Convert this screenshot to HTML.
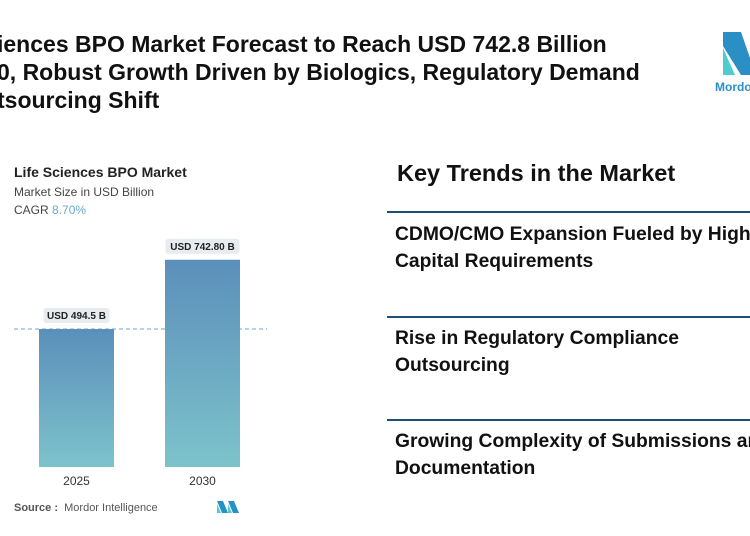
<!DOCTYPE html>
<html><head><meta charset="utf-8"><style>
body{margin:0;width:750px;height:536px;overflow:hidden;background:#fff;font-family:"Liberation Sans",sans-serif;position:relative}
.abs{position:absolute;white-space:nowrap}
.t{font-weight:bold;font-size:23px;color:#111;left:-3px}
.k{font-weight:bold;font-size:19.3px;color:#111;left:395px}
.hr{position:absolute;left:387px;width:363px;height:2px;background:#1f4e79}
</style></head><body>
<div class="abs t" style="top:31px">iences BPO Market Forecast to Reach USD 742.8 Billion</div>
<div class="abs t" style="top:59px">0, Robust Growth Driven by Biologics, Regulatory Demand</div>
<div class="abs t" style="top:87px">tsourcing Shift</div>
<svg class="abs" style="left:715px;top:28px" width="40" height="70">
<polygon points="8,4 26,4 35,30 35,47 26,47 8,18" fill="#2a8fc4"/>
<polygon points="8,20 20,47 8,47" fill="#4ecdd0"/>
<text x="0" y="63" font-size="12" font-weight="bold" fill="#2a8fc4" font-family="Liberation Sans">Mordor</text>
</svg>
<div class="abs" style="left:14px;top:164px;font-weight:bold;font-size:14px;color:#222">Life Sciences BPO Market</div>
<div class="abs" style="left:14px;top:185px;font-size:12px;color:#444">Market Size in USD Billion</div>
<div class="abs" style="left:14px;top:203px;font-size:12px;color:#444">CAGR <span style="color:#6aaac8">8.70%</span></div>
<svg id="chart" class="abs" style="left:0;top:0" width="280" height="536">
<defs><linearGradient id="g" x1="0" y1="0" x2="0" y2="1"><stop offset="0" stop-color="#5b8fba"/><stop offset="1" stop-color="#7dc3cb"/></linearGradient></defs>
</svg>
<div class="abs" style="left:14px;top:502px;font-size:11px;color:#555"><b>Source :</b>&nbsp; Mordor Intelligence</div>
<svg class="abs" style="left:216px;top:500px" width="24" height="14"><polygon points="1,1 7,1 12,13 6,13" fill="#2a8fc4"/><polygon points="1,4 5,13 1,13" fill="#4ecdd0"/><polygon points="12,1 18,1 23,13 17,13" fill="#2a8fc4"/><polygon points="12,4 16,13 12,13" fill="#4ecdd0"/></svg>
<div class="abs" style="left:397px;top:160px;font-weight:bold;font-size:23.5px;color:#111">Key Trends in the Market</div>
<div class="hr" style="top:211px"></div>
<div class="abs k" style="top:221px;line-height:27px">CDMO/CMO Expansion Fueled by High<br>Capital Requirements</div>
<div class="hr" style="top:316px"></div>
<div class="abs k" style="top:325px;line-height:27px">Rise in Regulatory Compliance<br>Outsourcing</div>
<div class="hr" style="top:419px"></div>
<div class="abs k" style="top:428px;line-height:27px">Growing Complexity of Submissions and<br>Documentation</div>
<script>
const categories=["2025","2030"];
const values=[494.5,742.8];
const valueLabels=["USD 494.5 B","USD 742.80 B"];
const svg=document.getElementById('chart');
const NS="http://www.w3.org/2000/svg";
const base=467,scale=0.279;
const y=v=>base-v*scale;
const xs=i=>39+i*126;
function mk(t,a){const e=document.createElementNS(NS,t);for(const k in a)e.setAttribute(k,a[k]);svg.appendChild(e);return e;}
const dl=mk('line',{x1:14,x2:267,y1:y(values[0]),y2:y(values[0]),stroke:'#6aaac8','stroke-dasharray':'4,3','stroke-width':1});


values.forEach((v,i)=>{
 const r=mk('rect',{x:xs(i),y:y(v),width:75,height:base-y(v),fill:'url(#g)'});
 
 
 const cx=xs(i)+37.5,w=i?74:66;
 const b=mk('rect',{x:cx-w/2,y:y(v)-21,width:w,height:15,rx:3,fill:'#e6ecef'});
 
 
 const tl=mk('text',{x:cx,y:y(v)-10,'text-anchor':'middle','font-size':10,'font-weight':'bold',fill:'#222','font-family':'Liberation Sans'});
 tl.textContent=valueLabels[i];
 
 
 const xl=mk('text',{x:cx,y:base+18,'text-anchor':'middle','font-size':12,fill:'#333','font-family':'Liberation Sans'});
 xl.textContent=categories[i];
 
 
});
</script>
</body></html>
